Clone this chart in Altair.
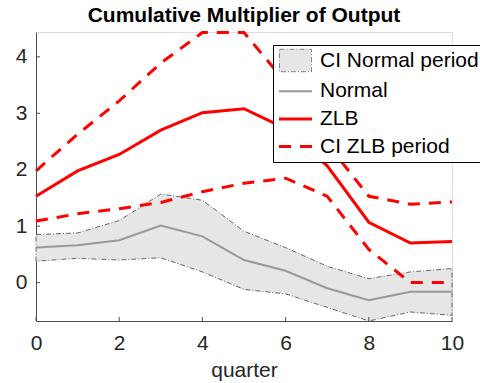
import altair as alt
import pandas as pd

# ---- data ----
quarters = list(range(11))
normal = [0.62, 0.66, 0.75, 1.01, 0.82, 0.40, 0.21, -0.10, -0.31, -0.16, -0.16]
ci_normal_upper = [0.85, 0.88, 1.10, 1.57, 1.46, 0.91, 0.62, 0.29, 0.07, 0.19, 0.25]
ci_normal_lower = [0.38, 0.43, 0.40, 0.44, 0.19, -0.12, -0.20, -0.44, -0.68, -0.52, -0.58]
zlb = [1.53, 1.98, 2.27, 2.70, 3.01, 3.08, 2.73, 2.07, 1.07, 0.70, 0.73]
ci_zlb_upper = [1.98, 2.63, 3.22, 3.89, 4.43, 4.43, 3.55, 2.46, 1.53, 1.39, 1.43]
ci_zlb_lower = [1.09, 1.22, 1.31, 1.42, 1.61, 1.76, 1.85, 1.53, 0.59, 0.00, 0.00]
x_ticks = [0, 2, 4, 6, 8, 10]
y_ticks = [0, 1, 2, 3, 4]
series_names = ["CI Normal period", "Normal", "ZLB", "CI ZLB period"]
series_colors = ["#666666", "#999999", "#ff0000", "#ff0000"]

FONT = "Liberation Sans"
AXIS_COLOR = "#4d4d4d"
TEXT_COLOR = "#262626"

band = pd.DataFrame({"quarter": quarters, "upper": ci_normal_upper, "lower": ci_normal_lower})

outline = pd.DataFrame({
    "quarter": quarters + quarters[::-1] + [quarters[0]],
    "value": ci_normal_upper + ci_normal_lower[::-1] + [ci_normal_upper[0]],
})
outline["order"] = range(len(outline))

rows = []
for q, v in zip(quarters, normal):
    rows.append({"quarter": q, "value": v, "series": "Normal", "line": "normal"})
for q, v in zip(quarters, zlb):
    rows.append({"quarter": q, "value": v, "series": "ZLB", "line": "zlb"})
for q, v in zip(quarters, ci_zlb_upper):
    rows.append({"quarter": q, "value": v, "series": "CI ZLB period", "line": "ci_up"})
for q, v in zip(quarters, ci_zlb_lower):
    rows.append({"quarter": q, "value": v, "series": "CI ZLB period", "line": "ci_lo"})
lines = pd.DataFrame(rows)

xticks_df = pd.DataFrame({"t": x_ticks})
yticks_df = pd.DataFrame({"t": y_ticks})

x_scale = alt.Scale(domain=[0, 10], nice=False, zero=False)
y_scale = alt.Scale(domain=[-0.68, 4.44], nice=False, zero=False)

x_axis = alt.Axis(values=x_ticks, title="quarter", labelFontSize=21, titleFontSize=21,
                  titleFontWeight="normal", labelFont=FONT, titleFont=FONT,
                  labelColor=TEXT_COLOR, titleColor=TEXT_COLOR, labelPadding=11,
                  titlePadding=6, ticks=False, tickSize=0, grid=False, labelFlush=False,
                  domainColor=AXIS_COLOR, domainWidth=1, labelAngle=0, format="d")
y_axis = alt.Axis(values=y_ticks, title=None, labelFontSize=21, labelFont=FONT,
                  labelColor=TEXT_COLOR, labelPadding=9, ticks=False, tickSize=0,
                  grid=False, labelFlush=False, domainColor=AXIS_COLOR, domainWidth=1,
                  format="d")

IS_CI = "datum.value === 'CI Normal period'"
IS_NORMAL = "datum.value === 'Normal'"
IS_CIZLB = "datum.value === 'CI ZLB period'"

legend = alt.Legend(
    title=None, orient="none", legendX=237, legendY=13, direction="vertical",
    symbolType=alt.ExprRef(expr=f"{IS_CI} ? 'M-0.97,-0.68H0.97V0.68H-0.97Z' : 'stroke'"),
    symbolFillColor=alt.ExprRef(expr=f"{IS_CI} ? '#e6e6e6' : 'transparent'"),
    symbolStrokeWidth=alt.ExprRef(expr=f"{IS_CI} ? 0.8 : ({IS_NORMAL} ? 2 : 3)"),
    symbolDash=alt.ExprRef(expr=f"{IS_CI} ? [5, 2, 1, 2] : ({IS_CIZLB} ? [12, 9] : [1, 0])"),
    symbolSize=1089, symbolOpacity=1, symbolOffset=7,
    labelFont=FONT, labelFontSize=21, labelColor="black", labelOffset=14,
    padding=5, rowPadding=5.7, strokeColor="black", fillColor="white",
)

color = alt.Color("series:N", scale=alt.Scale(domain=series_names, range=series_colors),
                  legend=legend)

X = alt.X("quarter:Q", scale=x_scale, axis=x_axis)

area = alt.Chart(band).mark_area(color="#e6e6e6", opacity=1).encode(
    x=X,
    y=alt.Y("upper:Q", scale=y_scale, axis=y_axis),
    y2="lower:Q",
)

edge = alt.Chart(outline).mark_line(color="#404040", strokeWidth=0.8,
                                    strokeDash=[5, 2, 1, 2]).encode(
    x=alt.X("quarter:Q", scale=x_scale),
    y=alt.Y("value:Q", scale=y_scale),
    order="order:Q",
)

normal_line = alt.Chart(lines).transform_filter("datum.line === 'normal'").mark_line(
    strokeWidth=2).encode(
    x=alt.X("quarter:Q", scale=x_scale),
    y=alt.Y("value:Q", scale=y_scale),
    color=color,
)

zlb_line = alt.Chart(lines).transform_filter("datum.line === 'zlb'").mark_line(
    strokeWidth=3).encode(
    x=alt.X("quarter:Q", scale=x_scale),
    y=alt.Y("value:Q", scale=y_scale),
    color=color,
)

ci_zlb_lines = alt.Chart(lines).transform_filter(
    "datum.line === 'ci_up' || datum.line === 'ci_lo'").mark_line(
    strokeWidth=3, strokeDash=[12, 9]).encode(
    x=alt.X("quarter:Q", scale=x_scale),
    y=alt.Y("value:Q", scale=y_scale),
    color=color,
    detail="line:N",
)

xtick_marks = alt.Chart(xticks_df).mark_rule(color=AXIS_COLOR, strokeWidth=1).encode(
    x=alt.X("t:Q", scale=x_scale),
    y=alt.value(289),
    y2=alt.value(285),
)
ytick_marks = alt.Chart(yticks_df).mark_rule(color=AXIS_COLOR, strokeWidth=1).encode(
    y=alt.Y("t:Q", scale=y_scale),
    x=alt.value(0),
    x2=alt.value(4),
)

chart = alt.layer(
    area, edge, normal_line, zlb_line, ci_zlb_lines, xtick_marks, ytick_marks
).properties(
    width=416, height=289,
    title=alt.TitleParams("Cumulative Multiplier of Output", font=FONT, fontSize=21,
                          fontWeight="bold", color="black", offset=1, anchor="middle"),
    padding={"left": 36, "top": 32, "right": 28, "bottom": 62},
    autosize=alt.AutoSizeParams(type="none"),
).configure_view(stroke=None).configure(background="white")

chart.save("out.html", embed_options={"renderer": "svg", "actions": False})
